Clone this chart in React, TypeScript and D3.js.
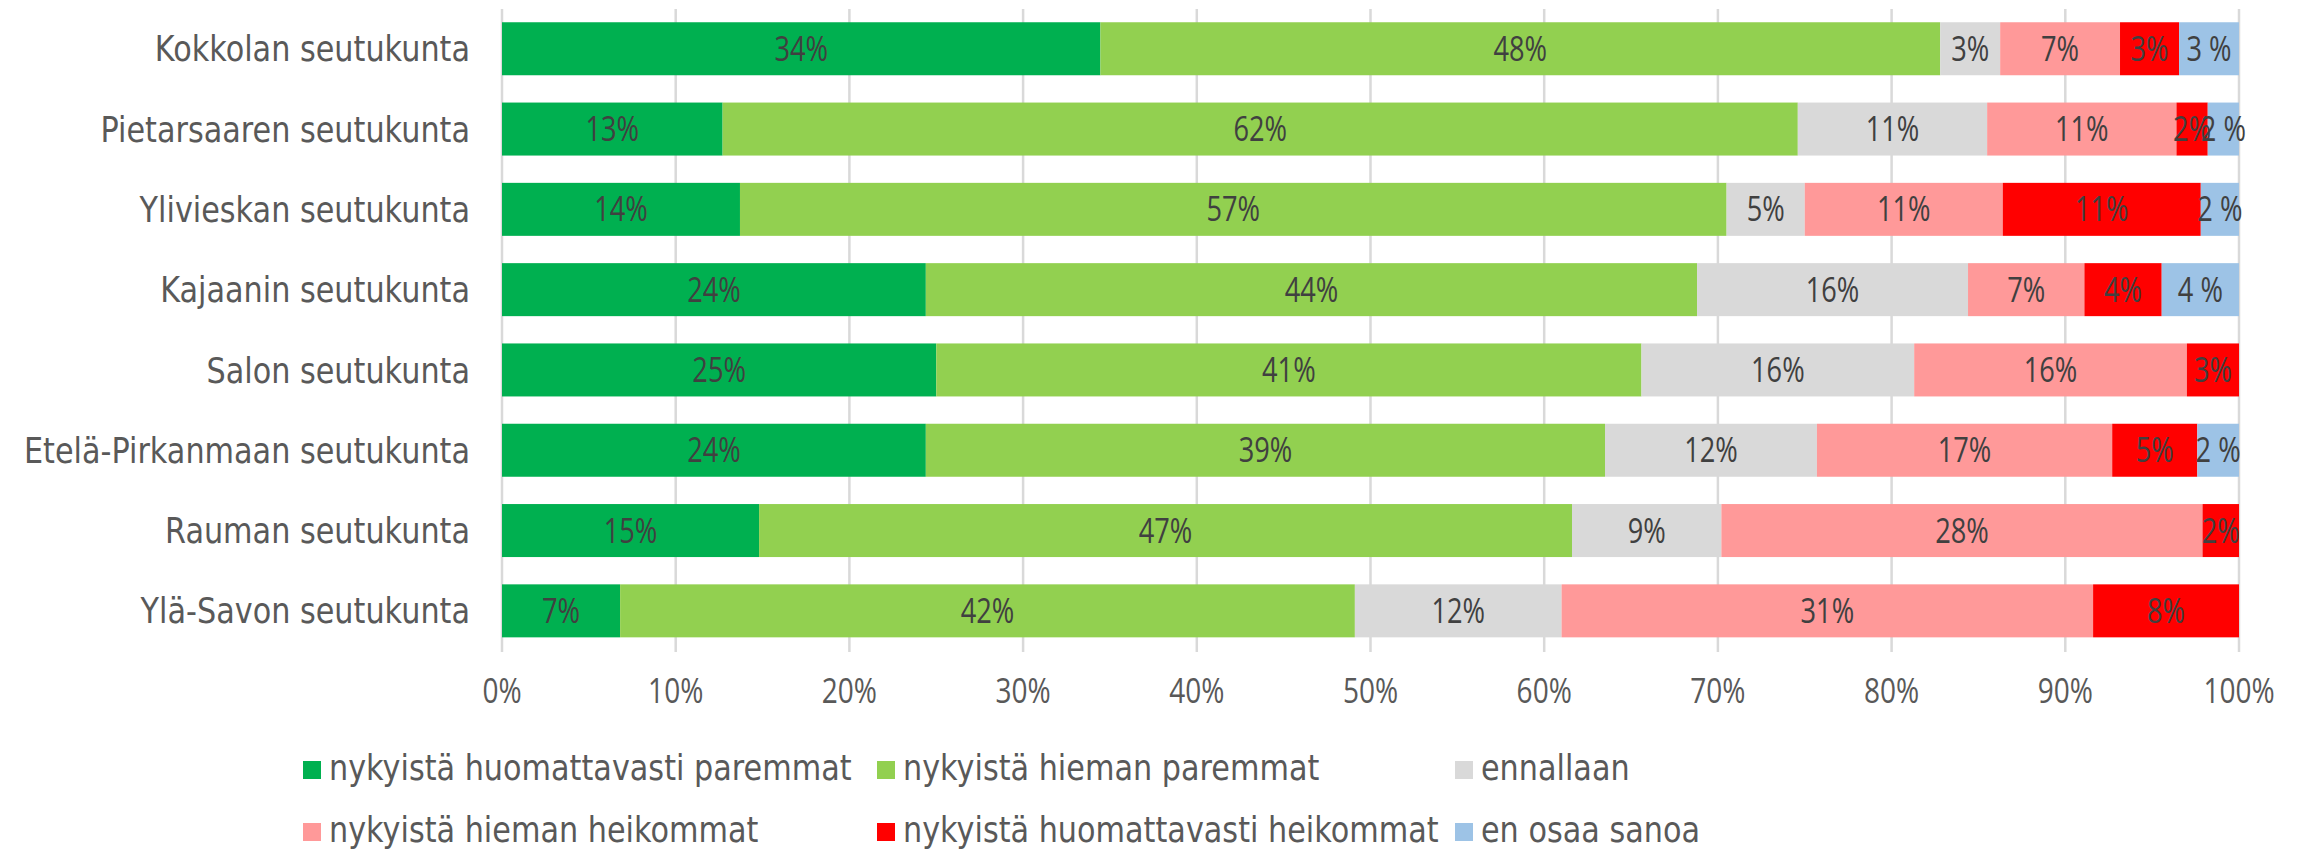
import React, { useRef, useEffect } from 'react';
import * as d3 from 'd3';

const regions = [
  'Kokkolan seutukunta',
  'Pietarsaaren seutukunta',
  'Ylivieskan seutukunta',
  'Kajaanin seutukunta',
  'Salon seutukunta',
  'Etelä-Pirkanmaan seutukunta',
  'Rauman seutukunta',
  'Ylä-Savon seutukunta',
];

const seriesNames = [
  'nykyistä huomattavasti paremmat',
  'nykyistä hieman paremmat',
  'ennallaan',
  'nykyistä hieman heikommat',
  'nykyistä huomattavasti heikommat',
  'en osaa sanoa',
];

const seriesColors = ['#00B050', '#92D050', '#D9D9D9', '#FF9999', '#FF0000', '#9DC3E6'];
// "en osaa sanoa" labels use a different number format (space before %)
const labelSuffix = ['%', '%', '%', '%', '%', ' %'];

// shares in percent, per region (same order as regions)
const huomattavastiParemmat = [34.45, 12.7, 13.7, 24.4, 25.0, 24.4, 14.8, 6.8];
const hiemanParemmat = [48.35, 61.9, 56.8, 44.4, 40.6, 39.1, 46.8, 42.3];
const ennallaan = [3.45, 10.9, 4.5, 15.6, 15.7, 12.2, 8.6, 11.9];
const hiemanHeikommat = [6.9, 10.9, 11.4, 6.7, 15.7, 17.0, 27.7, 30.6];
const huomattavastiHeikommat = [3.4, 1.8, 11.4, 4.45, 3.0, 4.9, 2.1, 8.4];
const enOsaaSanoa = [3.45, 1.8, 2.2, 4.45, 0, 2.4, 0, 0];

const xTicks = [0, 10, 20, 30, 40, 50, 60, 70, 80, 90, 100];

const W = 2305;
const H = 849;

type Row = { region: string; [key: string]: number | string };

const App: React.FC = () => {
  const svgRef = useRef<SVGSVGElement>(null);

  useEffect(() => {
    if (!svgRef.current) return;
    document.body.style.margin = '0';

    const svg = d3.select(svgRef.current);
    svg.selectAll('*').remove();

    const series = [huomattavastiParemmat, hiemanParemmat, ennallaan, hiemanHeikommat, huomattavastiHeikommat, enOsaaSanoa];
    const keys = seriesNames;
    const table: Row[] = regions.map((r, i) => {
      const row: Row = { region: r };
      keys.forEach((k, j) => { row[k] = series[j][i]; });
      return row;
    });

    const x = d3.scaleLinear().domain([0, 100]).range([502, 2239]);
    const y = d3.scaleBand<string>()
      .domain(regions)
      .range([8.6, 651])
      .paddingInner(0.34)
      .paddingOuter(0.17);

    const color = d3.scaleOrdinal<string, string>().domain(keys).range(seriesColors);

    // vertical gridlines
    svg.append('g')
      .selectAll('line')
      .data(xTicks)
      .join('line')
      .attr('x1', d => x(d))
      .attr('x2', d => x(d))
      .attr('y1', 9)
      .attr('y2', 652)
      .attr('stroke', '#D9D9D9')
      .attr('stroke-width', 2.5);

    // stacked bars
    const stacked = d3.stack<Row>()
      .keys(keys)
      .value((d, k) => d[k] as number)(table);

    const layers = svg.append('g')
      .selectAll('g')
      .data(stacked)
      .join('g')
      .attr('fill', d => color(d.key));

    layers.selectAll('rect')
      .data(d => d)
      .join('rect')
      .attr('x', d => x(d[0]))
      .attr('y', d => y(d.data.region) as number)
      .attr('width', d => Math.max(0, x(d[1]) - x(d[0])))
      .attr('height', y.bandwidth());

    // data labels
    const labelSize = 34;
    stacked.forEach((layer, li) => {
      svg.append('g')
        .selectAll('text')
        .data(layer.filter(d => d[1] - d[0] > 0))
        .join('text')
        .attr('transform', d => {
          const cx = x((d[0] + d[1]) / 2);
          const cy = (y(d.data.region) as number) + y.bandwidth() / 2 + labelSize * 0.357;
          return `translate(${cx},${cy}) scale(0.8,1)`;
        })
        .attr('text-anchor', 'middle')
        .attr('font-family', '"Open Sans", sans-serif')
        .attr('font-size', labelSize)
        .attr('fill', '#404040')
        .text(d => `${Math.round(d[1] - d[0])}${labelSuffix[li]}`);
    });

    // category labels
    const catSize = 35;
    svg.append('g')
      .selectAll('text')
      .data(regions)
      .join('text')
      .attr('transform', d => `translate(470,${(y(d) as number) + y.bandwidth() / 2 + catSize * 0.36}) scale(0.865,1)`)
      .attr('text-anchor', 'end')
      .attr('font-family', '"DejaVu Sans", sans-serif')
      .attr('font-size', catSize)
      .attr('fill', '#595959')
      .text(d => d);

    // x tick labels
    svg.append('g')
      .selectAll('text')
      .data(xTicks)
      .join('text')
      .attr('transform', d => `translate(${x(d)},703) scale(0.8,1)`)
      .attr('text-anchor', 'middle')
      .attr('font-family', '"Open Sans", sans-serif')
      .attr('font-size', 35)
      .attr('fill', '#595959')
      .text(d => `${d}%`);

    // legend
    const legendCols = [303, 877, 1455];
    const legendRows = [770, 832];
    const legend = svg.append('g')
      .selectAll('g')
      .data(keys)
      .join('g')
      .attr('transform', (_, i) => `translate(${legendCols[i % 3]},${legendRows[Math.floor(i / 3)]})`);

    legend.append('rect')
      .attr('x', 0)
      .attr('y', -9)
      .attr('width', 18)
      .attr('height', 18)
      .attr('fill', d => color(d));

    legend.append('text')
      .attr('transform', 'translate(26,10) scale(0.865,1)')
      .attr('font-family', '"DejaVu Sans", sans-serif')
      .attr('font-size', 35)
      .attr('fill', '#595959')
      .text(d => d);
  }, []);

  return (
    <div>
      <svg ref={svgRef} width={W} height={H} style={{ display: 'block', background: '#fff' }} />
    </div>
  );
};

export default App;
